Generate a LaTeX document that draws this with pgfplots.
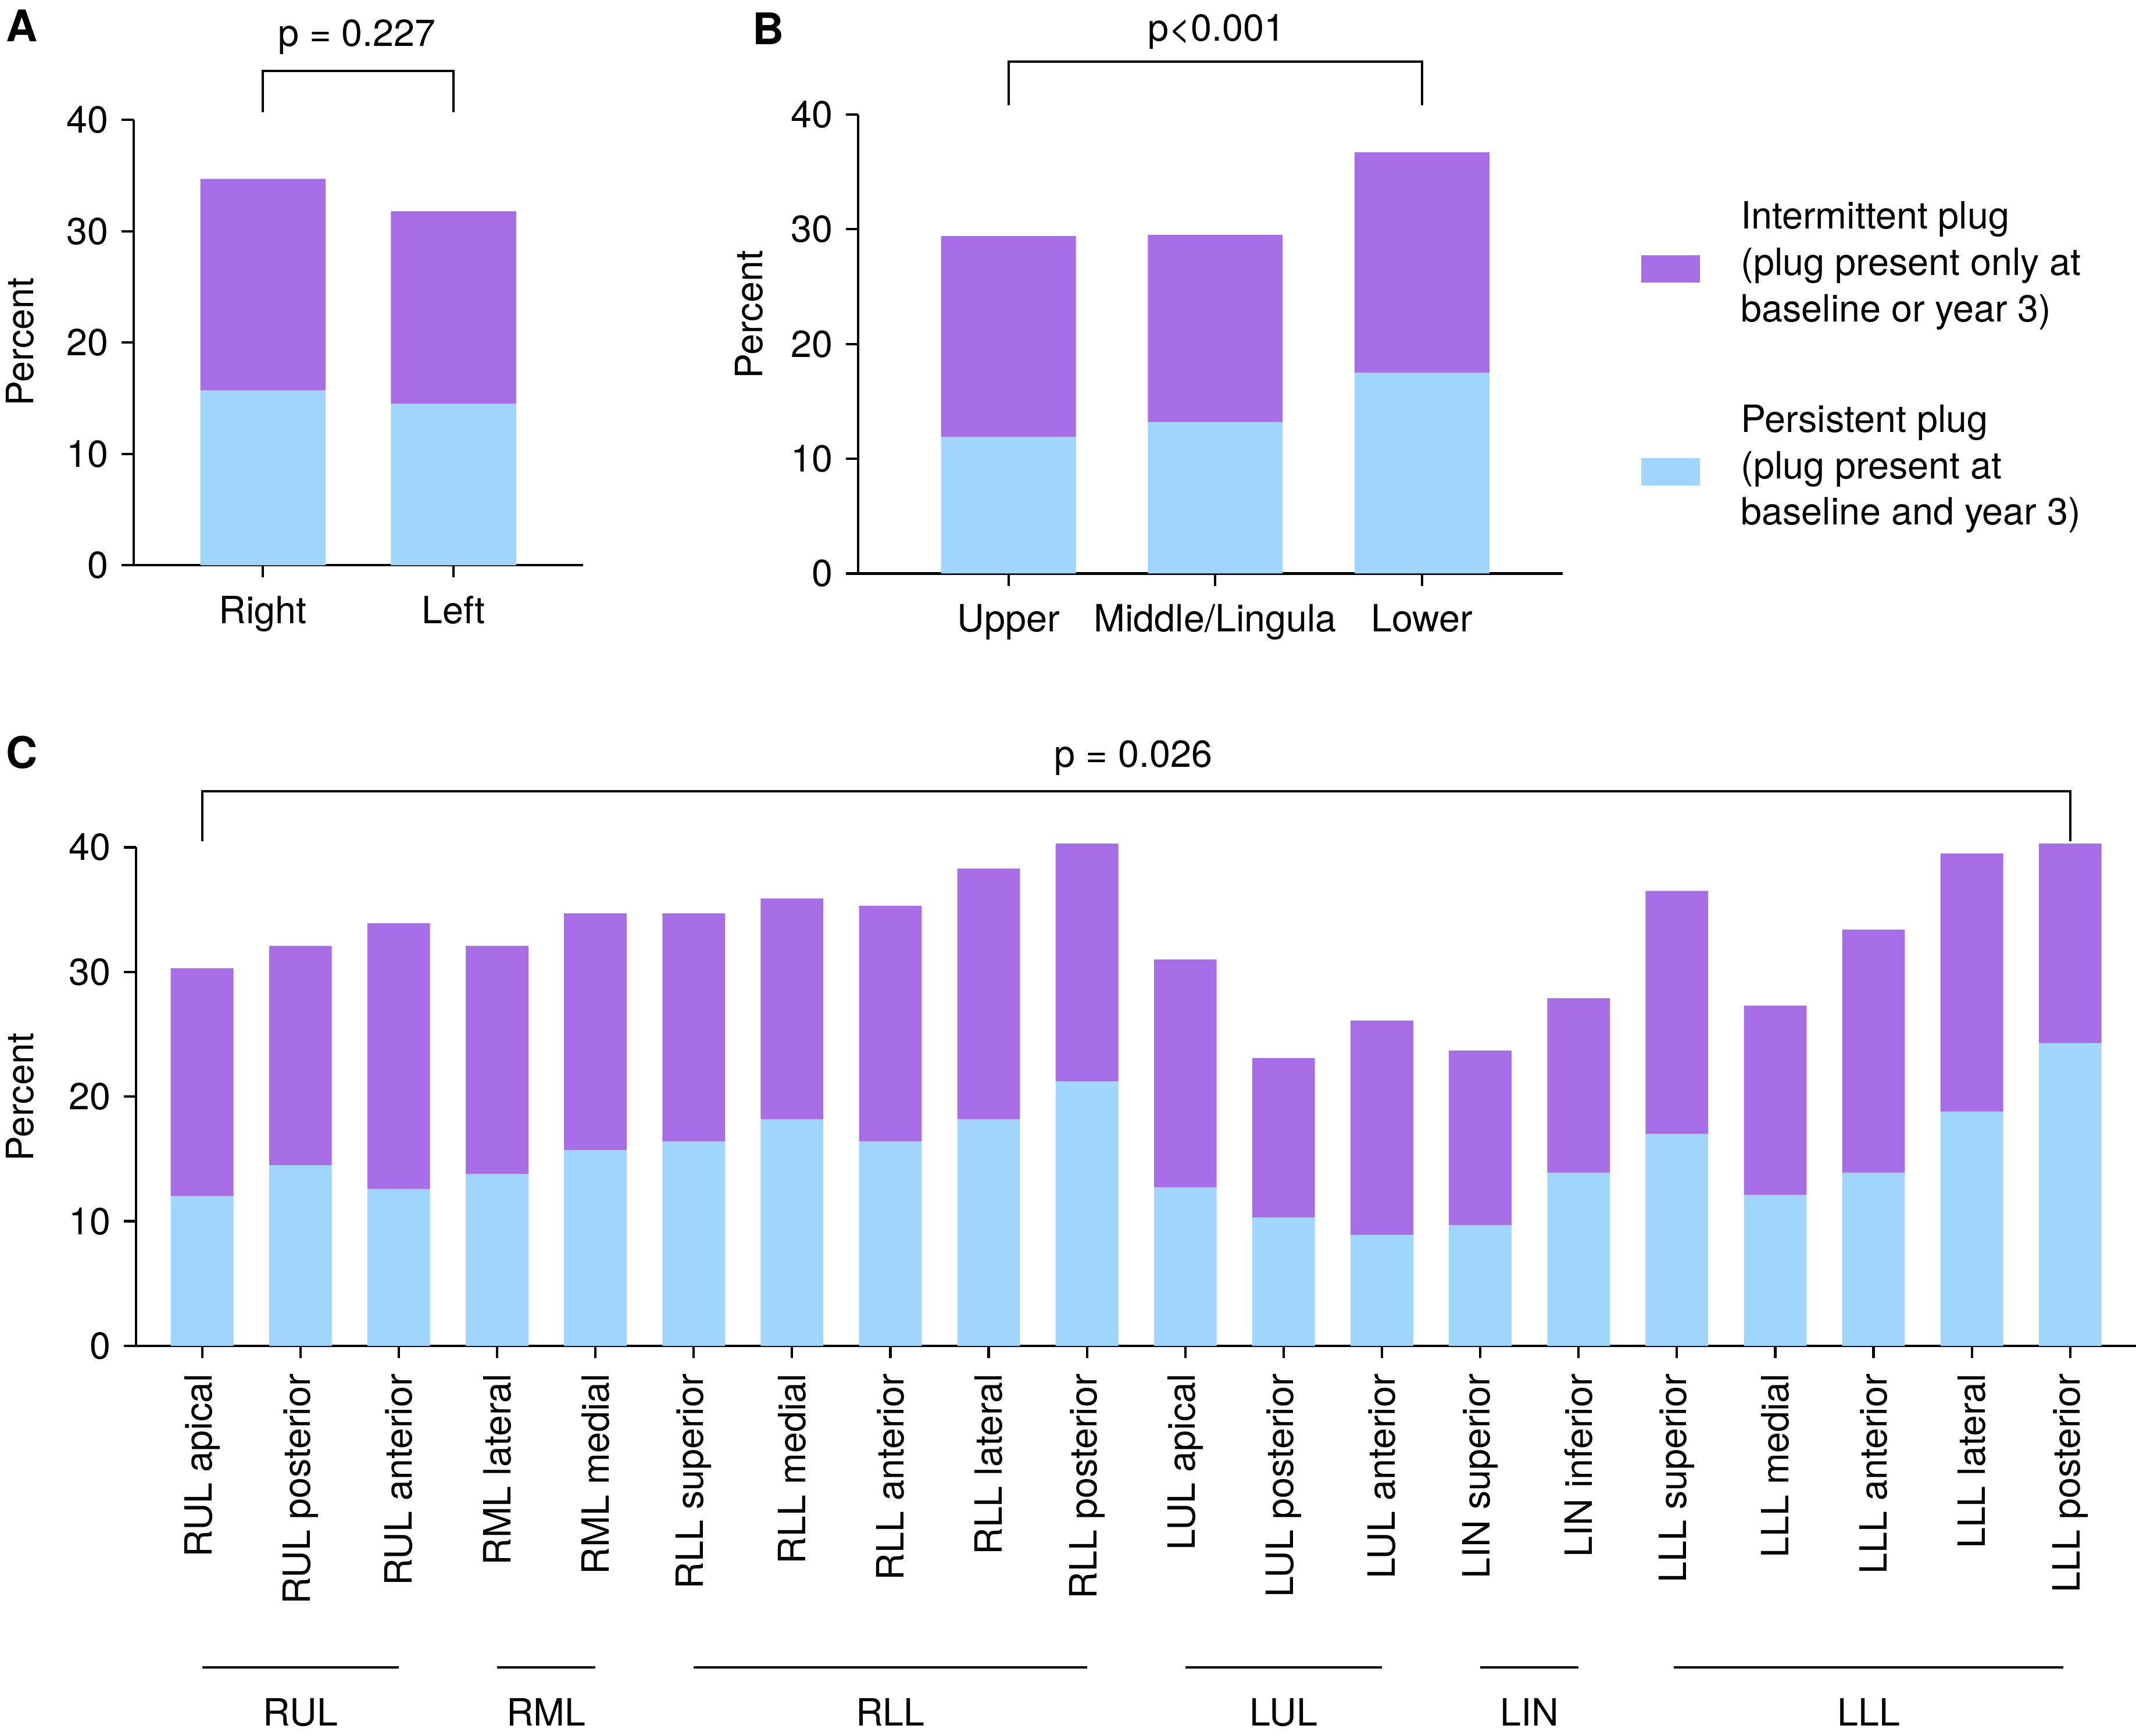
\documentclass[border=0pt]{standalone}
\usepackage{fontspec}
\setmainfont{TeX Gyre Heros}
\usepackage{pgfplots}
\usepackage{pgfplotstable}
\pgfplotsset{compat=1.18}
\definecolor{purp}{RGB}{166,109,230}
\definecolor{lblue}{RGB}{160,214,254}
\newcommand\fs{\fontsize{13.8pt}{17pt}\selectfont}
\newcommand\fb{\fontsize{16pt}{16pt}\bfseries\selectfont}

% x  persistent  intermittent
\pgfplotstableread{
x p i
0 15.7 19.0
1 14.5 17.3
}\tabA

\pgfplotstableread{
x p i
0 11.9 17.5
1 13.2 16.3
2 17.5 19.2
}\tabB

\pgfplotstableread{
x p i
0 12.0 18.3
1 14.5 17.6
2 12.6 21.3
3 13.8 18.3
4 15.7 19.0
5 16.4 18.3
6 18.2 17.7
7 16.4 18.9
8 18.2 20.1
9 21.2 19.1
10 12.7 18.3
11 10.3 12.8
12 8.9 17.2
13 9.7 14.0
14 13.9 14.0
15 17.0 19.5
16 12.1 15.2
17 13.9 19.5
18 18.8 20.7
19 24.3 16.0
}\tabC

\pgfplotsset{base/.style={
  scale only axis, anchor=south west,
  axis x line*=bottom, axis y line*=left,
  axis line style={line width=0.9pt,-},
  every tick/.style={line width=0.9pt, black},
  major tick length=4.5pt, tick align=outside,
  ymin=0, ymax=40, ytick={0,10,20,30,40},
  ybar stacked,
  clip=false,
  tick label style={font=\fs},
  /pgf/number format/assume math mode=true,
  xtick=data,
}}

\begin{document}
\fs
\begin{tikzpicture}[x=1pt,y=1pt]
\useasboundingbox (0,0) rectangle (784,637);

% ---------------- Panel A
\begin{axis}[base, at={(49pt,429.5pt)}, width=165pt, height=163.5pt,
  xmin=-0.679, xmax=1.679, xticklabels={Right,Left}, bar width=46pt,
  xticklabel style={yshift=-2pt}]
\addplot[fill=lblue, draw=none] table[x=x,y=p]{\tabA};
\addplot[fill=purp, draw=none] table[x=x,y=i]{\tabA};
\draw[line width=0.9pt] (axis cs:0,40.7) -- (axis cs:0,44.4) -- (axis cs:1,44.4) -- (axis cs:1,40.7);
\end{axis}

% ---------------- Panel B
\begin{axis}[base, at={(315pt,426.5pt)}, width=258.5pt, height=168.5pt,
  xmin=-0.727, xmax=2.68, xticklabels={Upper,Middle/Lingula,Lower}, bar width=49.5pt,
  xticklabel style={yshift=-2pt},
  reverse legend,
  legend style={draw=none, fill=none, at={(1.1122,0.81)}, anchor=north west,
    inner sep=0pt, outer sep=0pt, column sep=15pt, row sep=45pt,
    nodes={inner sep=0pt, outer sep=0pt}, font=\fs},
  legend cell align=left]
\addplot[fill=lblue, draw=none,
  legend image code/.code={\fill[lblue] (0pt,-15pt) rectangle (21.5pt,-5pt);}] table[x=x,y=p]{\tabB};
\addlegendentry{\parbox[c]{160pt}{\raggedright Persistent plug\\(plug present at\\baseline and year 3)}}
\addplot[fill=purp, draw=none,
  legend image code/.code={\fill[purp] (0pt,-15pt) rectangle (21.5pt,-5pt);}] table[x=x,y=i]{\tabB};
\addlegendentry{\parbox[c]{160pt}{\raggedright Intermittent plug\\(plug present only at\\baseline or year 3)}}
\draw[line width=0.9pt] (axis cs:0,40.8) -- (axis cs:0,44.6) -- (axis cs:2,44.6) -- (axis cs:2,40.8);
\end{axis}

% ---------------- Panel C
\begin{axis}[base, at={(50pt,143pt)}, width=734pt, height=183pt,
  xmin=-0.67, xmax=19.67, bar width=23pt,
  xticklabels={RUL apical,RUL posterior,RUL anterior,RML lateral,RML medial,
    RLL superior,RLL medial,RLL anterior,RLL lateral,RLL posterior,
    LUL apical,LUL posterior,LUL anterior,LIN superior,LIN inferior,
    LLL superior,LLL medial,LLL anterior,LLL lateral,LLL posterior},
  xticklabel style={rotate=90, anchor=east, xshift=-1pt}]
\addplot[fill=lblue, draw=none] table[x=x,y=p]{\tabC};
\addplot[fill=purp, draw=none] table[x=x,y=i]{\tabC};
\draw[line width=0.9pt] (axis cs:0,40.5) -- (axis cs:0,44.5) -- (axis cs:19,44.5) -- (axis cs:19,40.5);
\draw[line width=0.9pt] (axis cs:0,-25.8) -- (axis cs:2,-25.8);
\draw[line width=0.9pt] (axis cs:3,-25.8) -- (axis cs:4,-25.8);
\draw[line width=0.9pt] (axis cs:5,-25.8) -- (axis cs:9,-25.8);
\draw[line width=0.9pt] (axis cs:10,-25.8) -- (axis cs:12,-25.8);
\draw[line width=0.9pt] (axis cs:13,-25.8) -- (axis cs:14,-25.8);
\draw[line width=0.9pt] (axis cs:14.97,-25.8) -- (axis cs:18.93,-25.8);
\node[font=\fs] at (axis cs:1,-29.4) {RUL};
\node[font=\fs] at (axis cs:3.5,-29.4) {RML};
\node[font=\fs] at (axis cs:7,-29.4) {RLL};
\node[font=\fs] at (axis cs:11,-29.4) {LUL};
\node[font=\fs] at (axis cs:13.5,-29.4) {LIN};
\node[font=\fs] at (axis cs:16.95,-29.4) {LLL};
\end{axis}

% ---------------- texts
\node[anchor=north west, inner sep=0pt, font=\fb] at (2.1,633.5) {A};
\node[anchor=north west, inner sep=0pt, font=\fb] at (276,632.5) {B};
\node[anchor=north west, inner sep=0pt, font=\fb] at (2.1,367) {C};
\node[rotate=90, inner sep=0pt, font=\fs] at (7.25,511.5) {Percent};
\node[rotate=90, inner sep=0pt, font=\fs] at (275,521.5) {Percent};
\node[rotate=90, inner sep=0pt, font=\fs] at (7.25,234.3) {Percent};
\node[anchor=base, inner sep=0pt, font=\fs] at (131,620) {p = 0.227};
\node[anchor=base, inner sep=0pt, font=\fs] at (446.5,622) {p<0.001};
\node[anchor=base, inner sep=0pt, font=\fs] at (416,355.5) {p = 0.026};
\end{tikzpicture}
\end{document}
